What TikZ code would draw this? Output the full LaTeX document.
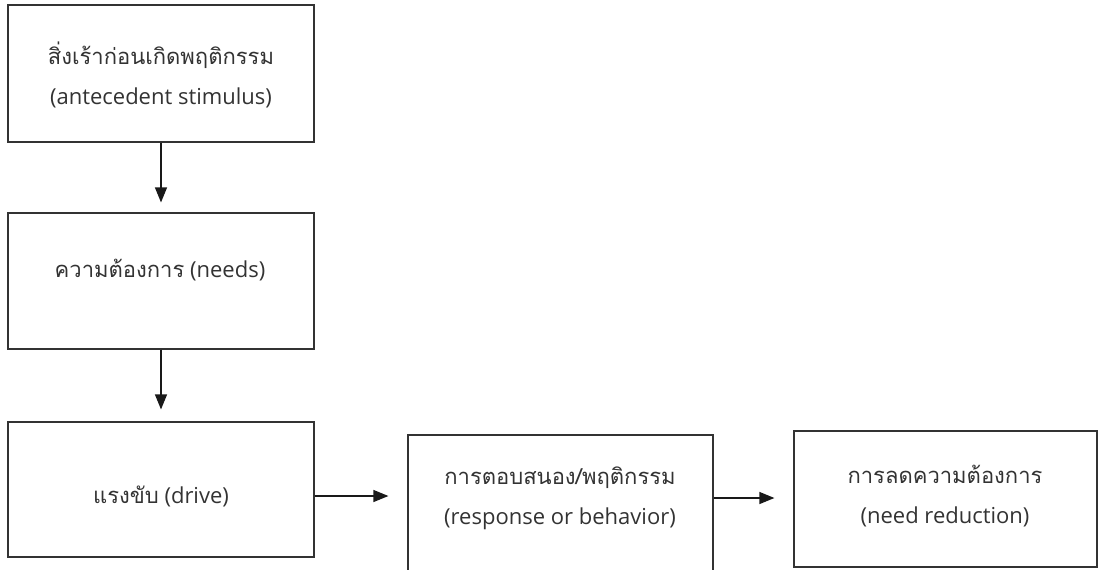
\documentclass[tikz,border=0pt]{standalone}
\usepackage{fontspec}
\setmainfont{Open Sans}
\newfontfamily\thaifont[Script=Thai]{Loma}
\usetikzlibrary{arrows.meta,calc}

\tikzset{
  box/.style={draw=black!80,line width=0.6pt,minimum width=153pt,inner sep=0pt},
  txt/.style={text=black!80,font=\fontsize{11}{20}\selectfont,align=center},
  arr/.style={-{Triangle[length=7.5pt,width=6pt]},line width=0.6pt,draw=black!90,fill=black!90},
}

\begin{document}
\begin{tikzpicture}[x=0.5pt,y=-0.5pt]
\useasboundingbox (0,0) rectangle (1099,569);
\clip (0,0) rectangle (1099,569);
% boxes
\node[box,minimum height=68.5pt] (b1) at (161,73.5) {};
\node[box,minimum height=68pt] (b2) at (161,281) {};
\node[box,minimum height=67.5pt] (b3) at (161,489.5) {};
\node[box,minimum width=152.5pt,minimum height=82.5pt] (b4) at (560.5,517.5) {};
\node[box,minimum width=151.5pt,minimum height=68pt] (b5) at (945.5,499) {};
% texts
\node[txt] (t1) at (161,75) {{\thaifont สิ่งเร้าก่อนเกิดพฤติกรรม}\\(antecedent stimulus)};
\node[txt] (t2) at (160,270) {{\thaifont ความต้องการ} (needs)};
\node[txt] (t3) at (161,496) {{\thaifont แรงขับ} (drive)};
\node[txt] (t4) at (560,498) {{\thaifont การตอบสนอง/พฤติกรรม}\\(response or behavior)};
\node[txt] (t5) at (945,496) {{\thaifont การลดความต้องการ}\\(need reduction)};
% arrows
\draw[arr,shorten >=5pt] (b1) -- (b2);
\draw[arr,shorten >=6pt] (b2) -- (b3);
\draw[arr,shorten >=9.5pt] (b3.east |- t3) -- (b4.west |- t3);
\draw[arr,shorten >=9.5pt] (b4.east |- t4) -- (b5.west |- t4);
\end{tikzpicture}
\end{document}
